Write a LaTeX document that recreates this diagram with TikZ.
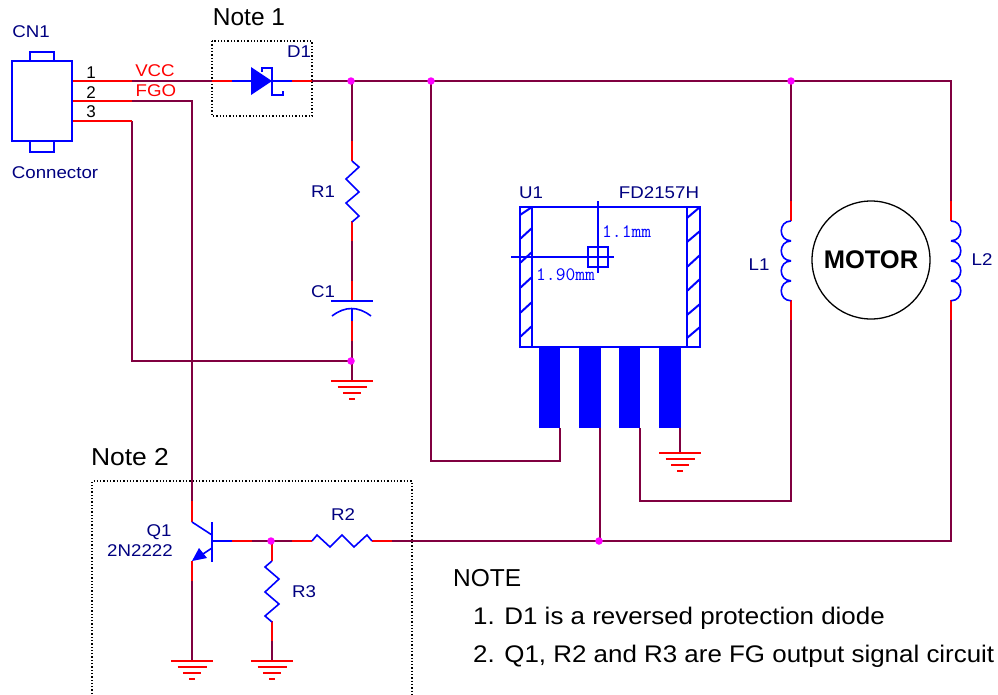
\documentclass[tikz,border=0pt]{standalone}
\usepackage{fontspec}
\setmainfont{Liberation Sans}
\newfontfamily\widef[FakeStretch=1.1]{Liberation Sans}
\newfontfamily\wideg[FakeStretch=1.08]{Liberation Sans}
\definecolor{wire}{HTML}{800040}
\definecolor{lbl}{HTML}{000080}
\definecolor{dotc}{HTML}{FF00FF}
\tikzset{
  net/.style={draw=wire,line width=1.5pt},
  lead/.style={draw=red,line width=1.5pt},
  part/.style={draw=blue,line width=1.6pt,line join=miter},
  hatchl/.style={draw=blue,line width=2pt},
  gline/.style={draw=red,line width=1.5pt},
  dotbox/.style={draw=black,line width=1.3pt,dash pattern=on 1.3pt off 2pt},
  junct/.style={circle,fill=dotc,inner sep=0pt,minimum size=7.5pt},
  refl/.style={text=lbl,font=\widef\fontsize{17}{20}\selectfont,inner sep=0pt},
  pinl/.style={text=black,font=\fontsize{17}{20}\selectfont,inner sep=0pt},
  netl/.style={text=red,font=\widef\fontsize{17}{20}\selectfont,inner sep=0pt},
  notel/.style={text=black,font=\fontsize{24.5}{28}\selectfont,inner sep=0pt},
  listl/.style={text=black,font=\wideg\fontsize{24}{28}\selectfont,inner sep=0pt},
  diml/.style={text=blue,font=\ttfamily\fontsize{19}{20}\selectfont,inner sep=0pt},
  pinbar/.style={fill=blue,draw=none},
  ground/.pic={
    \draw[gline] (-21,0)--(21,0) (-14.5,6)--(14.5,6) (-9,12)--(9,12) (-3,18)--(3,18);
  }
}
\begin{document}
\begin{tikzpicture}[x=1pt,y=-1pt]
\useasboundingbox (0,0) rectangle (998,694);
% key points
\coordinate (j1) at (352,81);
\coordinate (j2) at (431,81);
\coordinate (j3) at (791,81);
\coordinate (corner1) at (951,81);
\coordinate (j4) at (352,361);
\coordinate (j5) at (600,541);
\coordinate (j6) at (272,541);
\coordinate (corner2) at (951,541);
\coordinate (cnA) at (72,81);
\coordinate (cnB) at (72,101);
\coordinate (cnC) at (72,121);
\coordinate (g1) at (352,381);
\coordinate (g2) at (680,453);
\coordinate (g3) at (192,661);
\coordinate (g4) at (272,661);
\coordinate (p1) at (560,428);
\coordinate (p2) at (600,428);
\coordinate (p3) at (640,428);
\coordinate (p4) at (680,428);
% dotted boxes
\draw[dotbox] (212,41) rectangle (312,116);
\draw[dotbox] (92,694)--(92,481)--(412,481)--(412,694);
% wires
\draw[net] (132,81)--(212,81);
\draw[net] (312,81)--(j1)--(j2)--(j3)--(corner1)--(951,201);
\draw[net] (951,320)--(corner2)--(j5)--(392,541);
\draw[net] (132,101)--(192,101)--(192,501);
\draw[net] (132,121)--(132,361)--(j4);
\draw[net] (j1)--(352,141);
\draw[net] (352,241)--(352,281);
\draw[net] (352,341)--(j4)--(g1);
\draw[net] (j2)--(431,461)--(560,461)--(p1);
\draw[net] (p2)--(j5);
\draw[net] (p3)--(640,501)--(791,501)--(791,320);
\draw[net] (p4)--(g2);
\draw[net] (j3)--(791,201);
\draw[net] (252,541)--(292,541);
\draw[net] (192,581)--(g3);
\draw[net] (272,641)--(g4);
% red leads
\draw[lead] (cnA)--(132,81) (cnB)--(132,101) (cnC)--(132,121);
\draw[lead] (212,81)--(232,81) (292,81)--(312,81);
\draw[lead] (352,141)--(352,161) (352,221)--(352,241) (352,281)--(352,301) (352,321)--(352,341);
\draw[lead] (791,201)--(791,221) (791,300)--(791,320);
\draw[lead] (951,201)--(951,221) (951,300)--(951,320);
\draw[lead] (192,501)--(192,522) (192,561)--(192,581);
\draw[lead] (232,541)--(252,541) (292,541)--(312,541) (372,541)--(392,541);
\draw[lead] (272,541)--(272,561) (272,621)--(272,641);
% grounds
\pic at (g1) {ground};
\pic at (g2) {ground};
\pic at (g3) {ground};
\pic at (g4) {ground};
% connector
\draw[part] (12,61) rectangle (72,141);
\draw[part] (30,61)--(30,52)--(54,52)--(54,61);
\draw[part] (30,141)--(30,152)--(54,152)--(54,141);
% diode
\draw[part] (232,81)--(251,81) (272,81)--(292,81);
\fill[blue] (251,67)--(272,81)--(251,95)--cycle;
\draw[part] (262,72)--(262,68)--(272,68)--(272,95)--(283,95)--(283,91);
% resistors
\draw[part] (352,161)--(359,167)--(346,179)--(359,192)--(346,203)--(359,216)--(352,222);
\draw[part] (312,541)--(317,535)--(330,547)--(342,535)--(354,547)--(367,535)--(372,541);
\draw[part] (272,561)--(265,567)--(279,579)--(265,592)--(279,604)--(265,616)--(272,622);
% capacitor
\draw[part] (331,301)--(373,301);
\draw[part] (332,316) .. controls (345,306) and (358,306) .. (371,316);
\draw[part] (352,309)--(352,321);
% inductors
\foreach \s in {221,241,261,281}{
  \pgfmathsetmacro{\e}{\s+19.75}
  \draw[part] (791,\s) .. controls (778,\s) and (778,\e) .. (791,\e);
  \draw[part] (951,\s) .. controls (964,\s) and (964,\e) .. (951,\e);
}
% motor
\node[circle,draw=black,line width=1.3pt,minimum size=118pt,inner sep=0pt,font=\bfseries\fontsize{25.5}{30}\selectfont] (motor) at (871,260) {MOTOR};
% U1
\draw[part] (520,207) rectangle (700,347);
\draw[part] (532,207)--(532,347) (687,207)--(687,347);
\foreach \a/\b in {215/207,239/228,263/252,288/277,313/302,337/326}{\draw[hatchl] (520,\a)--(532,\b);}
\foreach \a/\b in {218/207,242/231,267/255,291/279,315/304,338/327}{\draw[hatchl] (687,\a)--(700,\b);}
\draw[part,line width=1.2pt] (598,201)--(598,273) (511,257)--(614,257);
\draw[part,line width=1.2pt] (588,247) rectangle (608,267);
\fill[pinbar] (539,347) rectangle (560,428);
\fill[pinbar] (579,347) rectangle (601,428);
\fill[pinbar] (619,347) rectangle (640,428);
\fill[pinbar] (659,347) rectangle (681,428);
% transistor
\draw[part] (212,522)--(212,562);
\draw[part] (192,522)--(212,535);
\draw[part] (212,541)--(232,541);
\draw[part] (212,548)--(200,556);
\fill[blue] (192,561)--(199,548)--(207,558)--cycle;
% junctions
\node[junct] (dj1) at (351,81) {};
\node[junct] (dj2) at (j2) {};
\node[junct] (dj3) at (j3) {};
\node[junct] (dj4) at (351,361) {};
\node[junct] (dj5) at (599,541) {};
\node[junct] (dj6) at (271,541) {};
% labels
\node[refl] (tCN) at (31,32) {CN1};
\node[refl] (tConn) at (55,173) {Connector};
\node[pinl] (t1) at (91,73) {1};
\node[pinl] (t2) at (91,93) {2};
\node[pinl] (t3) at (91,112) {3};
\node[netl] (tV) at (155,71) {VCC};
\node[netl] (tF) at (156,91) {FGO};
\node[notel] (tN1) at (249,17) {Note 1};
\node[listl,font=\wideg\fontsize{24.5}{28}\selectfont] (tN2) at (130,457) {Note 2};
\node[refl] (tD1) at (299,52) {D1};
\node[refl] (tR1) at (323,192) {R1};
\node[refl] (tC1) at (323,292) {C1};
\node[refl] (tU1) at (531,193) {U1};
\node[refl] (tFD) at (659,193) {FD2157H};
\node[refl] (tL1) at (759,265) {L1};
\node[refl] (tL2) at (982,260) {L2};
\node[refl] (tQ1) at (159,532) {Q1};
\node[refl] (tQ2) at (140,551) {2N2222};
\node[refl] (tR2) at (343,515) {R2};
\node[refl] (tR3) at (304,592) {R3};
\node[diml,anchor=west] (td1) at (602,232) {1.1mm};
\node[diml,anchor=west] (td2) at (536,275) {1.90mm};
\node[notel,anchor=west] (tn0) at (453,578) {NOTE};
\node[listl,anchor=west] (tn1) at (473,618) {1. D1 is a reversed protection diode};
\node[listl,anchor=west] (tn2) at (473,656) {2. Q1, R2 and R3 are FG output signal circuit};
\end{tikzpicture}
\end{document}
